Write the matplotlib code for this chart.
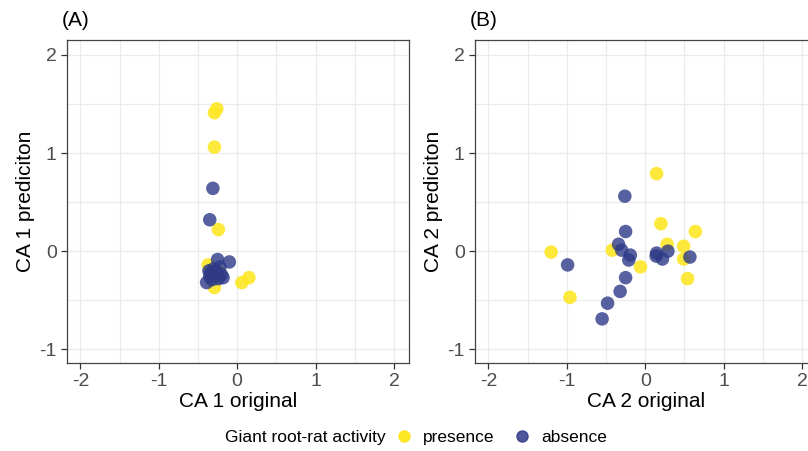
import matplotlib
matplotlib.use("Agg")
import matplotlib.pyplot as plt
from matplotlib.lines import Line2D
from matplotlib.ticker import MultipleLocator

plt.rcParams['font.family'] = ['Liberation Sans', 'DejaVu Sans']
plt.rcParams['axes.unicode_minus'] = False

yellow = "#FDE725"
navy = "#2E3A87"

# panel A: CA 1 (original, prediction)
a_pres_x = [-0.26, -0.29, -0.29, -0.24, -0.37, -0.29, 0.06, 0.15, -0.33, -0.22, -0.30]
a_pres_y = [1.45, 1.41, 1.06, 0.22, -0.14, -0.37, -0.32, -0.27, -0.28, -0.22, -0.20]
a_abs_x = [-0.31, -0.35, -0.25, -0.10, -0.39, -0.34, -0.30, -0.27, -0.22, -0.35,
           -0.28, -0.20, -0.32, -0.24, -0.18, -0.36]
a_abs_y = [0.64, 0.32, -0.085, -0.11, -0.32, -0.22, -0.18, -0.20, -0.16, -0.26,
           -0.25, -0.24, -0.29, -0.28, -0.27, -0.20]

# panel B: CA 2 (original, prediction)
b_pres_x = [0.145, 0.20, 0.64, 0.28, 0.49, -1.20, -0.42, 0.49, -0.06, 0.54, -0.96]
b_pres_y = [0.79, 0.28, 0.20, 0.07, 0.05, -0.01, 0.01, -0.08, -0.16, -0.28, -0.47]
b_abs_x = [-0.26, -0.25, -0.34, -0.30, -0.19, -0.21, 0.145, 0.14, 0.29, 0.22,
           0.57, -0.99, -0.25, -0.32, -0.48, -0.55]
b_abs_y = [0.56, 0.20, 0.07, 0.01, -0.04, -0.09, -0.02, -0.05, 0.00, -0.08,
           -0.06, -0.14, -0.27, -0.41, -0.53, -0.69]

panels = [
    ("(A)", "CA 1 original", "CA 1 prediciton", a_pres_x, a_pres_y, a_abs_x, a_abs_y),
    ("(B)", "CA 2 original", "CA 2 prediciton", b_pres_x, b_pres_y, b_abs_x, b_abs_y),
]

fig = plt.figure(figsize=(8.08, 4.51), dpi=100)
lefts = [0.083, 0.588]
for left, (tag, xl, yl, px, py, ax_, ay_) in zip(lefts, panels):
    ax = fig.add_axes([left, 0.195, 0.423, 0.716])
    ax.scatter(px, py, s=95, color=yellow, alpha=0.9, edgecolors='none', zorder=3)
    ax.scatter(ax_, ay_, s=95, color=navy, alpha=0.8, edgecolors='none', zorder=3)
    ax.set_xlim(-2.17, 2.19)
    ax.set_ylim(-1.14, 2.15)
    ax.xaxis.set_major_locator(MultipleLocator(1))
    ax.yaxis.set_major_locator(MultipleLocator(1))
    ax.xaxis.set_minor_locator(MultipleLocator(0.5))
    ax.yaxis.set_minor_locator(MultipleLocator(0.5))
    ax.grid(True, which='both', color='#EBEBEB', linewidth=0.9, zorder=0)
    ax.set_axisbelow(True)
    for sp in ax.spines.values():
        sp.set_color('#444444')
        sp.set_linewidth(0.9)
    ax.tick_params(which='minor', length=0)
    ax.tick_params(which='major', length=4, width=0.9, color='#333333',
                   labelcolor='#4D4D4D', labelsize=14)
    ax.set_xlabel(xl, fontsize=15, labelpad=1)
    ax.set_ylabel(yl, fontsize=15, labelpad=3)
    ax.text(-0.015, 1.03, tag, transform=ax.transAxes, fontsize=15, ha='left', va='bottom')

fig.text(0.278, 0.02, "Giant root-rat activity", fontsize=12.5, ha='left', va='baseline')
handles = [
    Line2D([], [], marker='o', linestyle='none', markersize=8, color=yellow, label='presence'),
    Line2D([], [], marker='o', linestyle='none', markersize=8, color=navy, alpha=0.85, label='absence'),
]
fig.legend(handles=handles, loc='lower left', bbox_to_anchor=(0.47, -0.022), ncol=2,
           frameon=False, fontsize=12.5, handletextpad=0.6, columnspacing=1.1,
           handlelength=1.0)

fig.savefig("out.png", dpi=100)
